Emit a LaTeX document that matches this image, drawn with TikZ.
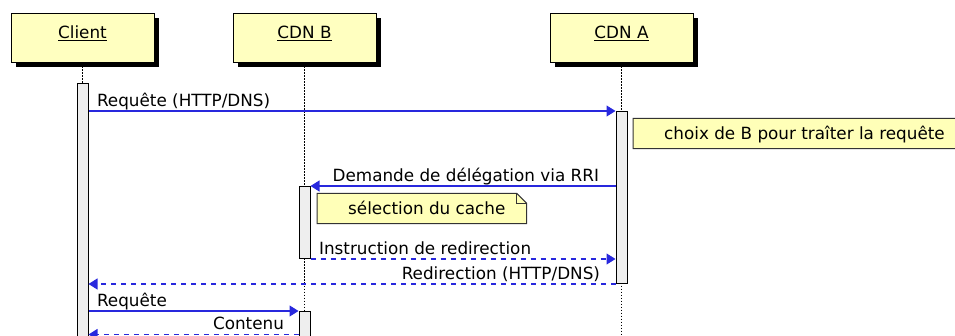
\documentclass[tikz,border=0pt]{standalone}
\usepackage{fontspec}
\setmainfont{DejaVu Sans}
\usetikzlibrary{positioning,arrows.meta,shadows,backgrounds}
\definecolor{msgblue}{HTML}{2828DD}
\definecolor{boxyellow}{HTML}{FFFFC0}
\definecolor{noteyellow}{HTML}{FFFFB8}
\definecolor{bargray}{HTML}{EEEEEE}

\begin{document}
\begin{tikzpicture}[x=1pt, y=-1pt,
            every node/.style={font=\fontsize{16.8}{20}\selectfont},
            actor/.style={draw, line width=1pt, fill=boxyellow, minimum width=143pt, inner sep=0pt,
                          text height=24.5pt, text depth=24.5pt,
                          drop shadow={shadow xshift=4.5pt, shadow yshift=-4.5pt, fill=black, opacity=1}},
            bar/.style={draw, line width=1pt, fill=bargray, minimum width=11pt, inner sep=0pt, anchor=north},
            life/.style={line width=1.1pt, dash pattern=on 1.5pt off 1.5pt},
            msg/.style={draw=msgblue, line width=1.1pt, -{Triangle[length=9pt,width=11pt]}},
            reply/.style={msg, dash pattern=on 5pt off 5pt},
            lbl/.style={inner sep=0pt, text=black, yshift=4.5pt},
            notetext/.style={inner sep=0pt, text height=21pt, text depth=9pt, anchor=base west},
            note/.style={draw=black!80, fill=noteyellow, line width=1pt}
  ]
  \useasboundingbox (0,0) rectangle (955,336);

  % participants
  \node[actor] (client) at (82.5,38.5) {\underline{Client}};
  \node[actor] (cdnb) [right=78pt of client] {\underline{CDN B}};
  \node[actor] (cdna) [right=173pt of cdnb] {\underline{CDN A}};

  \coordinate (bottom) at (0,336);
  \foreach \p in {client,cdnb,cdna}
    \draw[life] (\p.south) -- (\p.south |- bottom);

  % activations
  \node[bar, minimum height=260pt] (barc) [below=20pt of client] {};
  \node[bar, minimum height=172pt] (bara) [below=47.5pt of cdna] {};
  \node[bar, minimum height=72pt] (barb) [below=122.5pt of cdnb] {};
  \node[bar, minimum height=40pt] (barbb) [below=247.5pt of cdnb] {};

  % notes
  \node[notetext] (choix) at (664,139.5) {choix de B pour traîter la requête};
  \node[notetext] (selection) at (348,214.5) {sélection du cache};
  \begin{scope}[on background layer]
    \foreach \n in {choix,selection} {
      \filldraw[note] ([xshift=-31pt]\n.north west) -- ([xshift=11pt]\n.north east)
        -- ([xshift=21pt,yshift=-10pt]\n.north east) -- ([xshift=21pt]\n.south east)
        -- ([xshift=-31pt]\n.south west) -- cycle;
      \draw[note, fill=none] ([xshift=11pt]\n.north east) -- ([xshift=11pt,yshift=-10pt]\n.north east)
        -- ([xshift=21pt,yshift=-10pt]\n.north east);
    }
  \end{scope}

  % messages
  \coordinate (contenu) at (0,334.5);
  \draw[msg] (barc.east |- bara.north) -- (bara.north west)
    node[lbl, pos=0, anchor=base west, xshift=8pt] {Requête (HTTP/DNS)};
  \draw[msg] (bara.west |- barb.north) -- (barb.north east)
    node[lbl, pos=0, anchor=base east, xshift=-16pt] {Demande de délégation via RRI};
  \draw[reply] (barb.south east) -- (bara.west |- barb.south)
    node[lbl, pos=0, anchor=base west, xshift=8pt] {Instruction de redirection};
  \draw[reply] (bara.south west) -- (barc.east |- bara.south)
    node[lbl, pos=0, anchor=base east, xshift=-15pt] {Redirection (HTTP/DNS)};
  \draw[msg] (barc.east |- barbb.north) -- (barbb.north west)
    node[lbl, pos=0, anchor=base west, xshift=8pt] {Requête};
  \draw[reply] (barbb.west |- contenu) -- (barc.east |- contenu)
    node[lbl, pos=0, anchor=base east, xshift=-14pt] {Contenu};

\end{tikzpicture}
\end{document}
